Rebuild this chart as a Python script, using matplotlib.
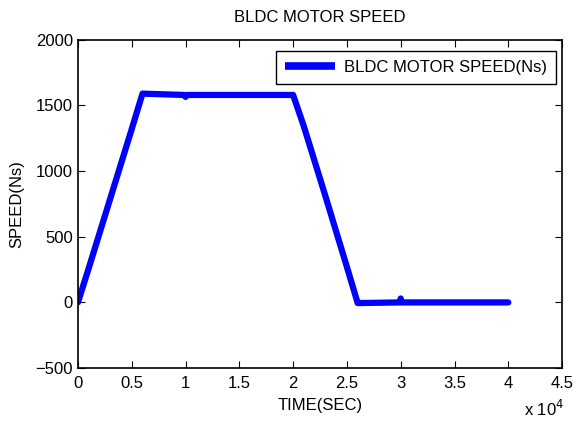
import matplotlib
matplotlib.use("Agg")
import matplotlib.pyplot as plt

plt.rcParams["font.family"] = ["Liberation Sans", "DejaVu Sans"]

# speed profile (time in s, speed in Ns)
time = [0, 1000, 3000, 5000, 6000, 9900, 10000, 10100, 20000, 21000,
        23000, 25000, 26000, 29900, 30000, 30100, 40000]
speed = [0, 260, 790, 1320, 1590, 1580, 1565, 1580, 1580, 1340,
         810, 270, -5, 0, 30, 0, 0]

xticks = [0, 5000, 10000, 15000, 20000, 25000, 30000, 35000, 40000, 45000]
xtick_labels = ["0", "0.5", "1", "1.5", "2", "2.5", "3", "3.5", "4", "4.5"]
yticks = [-500, 0, 500, 1000, 1500, 2000]

fs = 12

fig = plt.figure(figsize=(5.73, 4.28), dpi=100)
ax = fig.add_axes([0.136, 0.140, 0.845, 0.767])

ax.plot(time, speed, color="#0000ff", linewidth=4.5, solid_capstyle="round",
        label="BLDC MOTOR SPEED(Ns)")

ax.set_xlim(0, 45000)
ax.set_ylim(-500, 2000)
ax.set_xticks(xticks)
ax.set_xticklabels(xtick_labels)
ax.set_yticks(yticks)
ax.tick_params(direction="in", top=True, right=True, length=5, labelsize=fs)
ax.tick_params(axis="x", pad=6)
for s in ax.spines.values():
    s.set_linewidth(1.2)

ax.set_title("BLDC MOTOR SPEED", fontsize=fs, pad=13)
ax.set_xlabel("TIME(SEC)", fontsize=fs, labelpad=5)
ax.set_ylabel("SPEED(Ns)", fontsize=fs, labelpad=8)
fig.text(0.915, 0.028, r"x 10$^{4}$", fontsize=fs)

leg = ax.legend(loc="upper right", fontsize=fs, fancybox=False,
                edgecolor="black", framealpha=1, handlelength=3.0,
                handletextpad=0.5, borderaxespad=0, borderpad=0.55,
                bbox_to_anchor=(556 / 573, 1 - 51 / 428),
                bbox_transform=fig.transFigure)
leg.get_frame().set_linewidth(1.0)
leg.get_lines()[0].set_solid_capstyle("butt")
leg.get_lines()[0].set_linewidth(5.5)

fig.savefig("out.png", dpi=100)
